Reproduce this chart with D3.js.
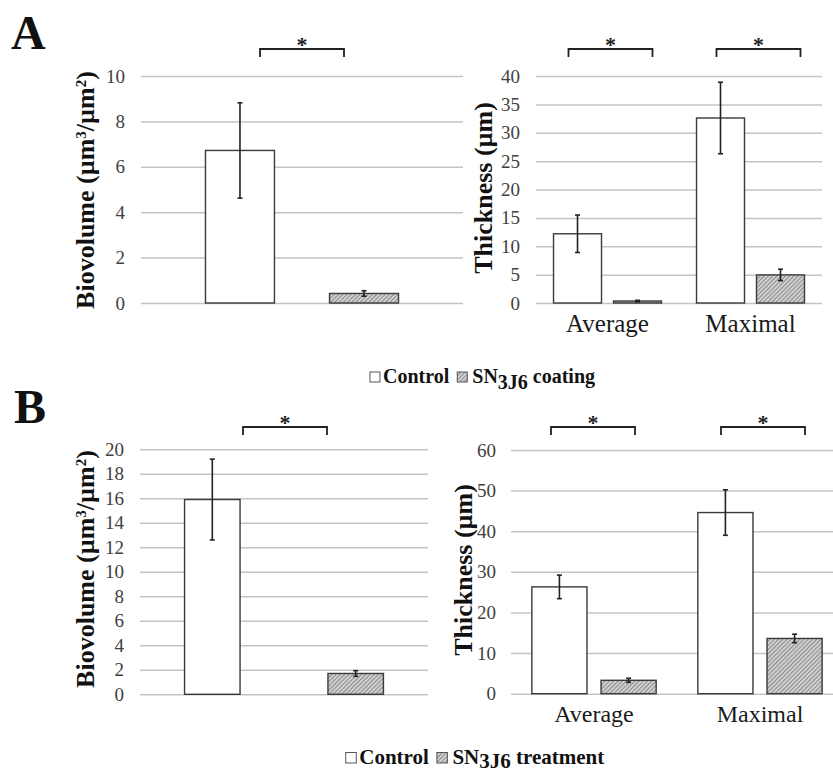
<!DOCTYPE html>
<html>
<head>
<meta charset="utf-8">
<script src="https://cdn.jsdelivr.net/npm/d3@7"></script>
<style>
  html, body { margin: 0; padding: 0; background: #fff; }
  svg { display: block; }
</style>
</head>
<body>
<svg id="chart" width="833" height="773"></svg>
<script>
// ---------- DATA ----------
const series = ["Control", "SN3J6"];
const thicknessCategories = ["Average", "Maximal"];

// Panel A (coating)
const bioA_values = [6.72, 0.42];
const bioA_errors = [2.1, 0.12];
const thickA_control = [12.2, 32.6];
const thickA_controlErr = [3.3, 6.3];
const thickA_sn = [0.35, 4.95];
const thickA_snErr = [0.12, 1.0];
const bioA_ticks = [0, 2, 4, 6, 8, 10];
const thickA_ticks = [0, 5, 10, 15, 20, 25, 30, 35, 40];

// Panel B (treatment)
const bioB_values = [15.9, 1.7];
const bioB_errors = [3.3, 0.23];
const thickB_control = [26.3, 44.6];
const thickB_controlErr = [2.9, 5.6];
const thickB_sn = [3.3, 13.6];
const thickB_snErr = [0.5, 1.05];
const bioB_ticks = [0, 2, 4, 6, 8, 10, 12, 14, 16, 18, 20];
const thickB_ticks = [0, 10, 20, 30, 40, 50, 60];

const legendA_suffix = " coating";
const legendB_suffix = " treatment";

// ---------- STYLE ----------
const SERIF = "'Liberation Serif', 'Times New Roman', serif";
const GRID = "#c4c4c4";
const OUTLINE = "#3a3a3a";
const TICKCOL = "#404040";

const svg = d3.select("#chart");
const defs = svg.append("defs");
const pat = defs.append("pattern")
  .attr("id", "hatch").attr("patternUnits", "userSpaceOnUse")
  .attr("width", 3).attr("height", 3)
  .attr("patternTransform", "rotate(45)");
pat.append("rect").attr("width", 3).attr("height", 3).attr("fill", "#d0d0d0");
pat.append("line").attr("x1", 0).attr("y1", 0).attr("x2", 0).attr("y2", 3)
  .attr("stroke", "#666").attr("stroke-width", 1.3);

const fills = ["#ffffff", "url(#hatch)"];

// ---------- generic panel ----------
function drawPanel(cfg) {
  const g = svg.append("g");
  const y = d3.scaleLinear().domain(cfg.domain).range([cfg.y0, cfg.y1]);
  const x = d3.scaleBand().domain(cfg.categories).range([cfg.x0, cfg.x1])
    .paddingInner(cfg.padInner).paddingOuter(cfg.padOuter);
  const xs = d3.scaleBand().domain(series).range([0, x.bandwidth()])
    .paddingInner(cfg.subPad).paddingOuter(0);

  // grid
  const yAxis = d3.axisLeft(y).tickValues(cfg.ticks).tickSize(-(cfg.x1 - cfg.x0)).tickPadding(0);
  const ax = g.append("g").attr("transform", `translate(${cfg.x0},0)`).call(yAxis);
  ax.select(".domain").remove();
  ax.selectAll(".tick line").attr("stroke", GRID).attr("stroke-width", 1.5);
  ax.selectAll(".tick text")
    .attr("x", cfg.tickRight - cfg.x0)
    .attr("font-family", SERIF).attr("font-size", cfg.tickSize)
    .attr("fill", TICKCOL).attr("text-anchor", "end");

  // bars
  const rows = [];
  cfg.categories.forEach((c, i) => {
    series.forEach((s, j) => {
      rows.push({ c, s, j, v: cfg.values[j][i], e: cfg.errors[j][i] });
    });
  });
  const bars = g.append("g");
  bars.selectAll("rect").data(rows).join("rect")
    .attr("x", d => x(d.c) + xs(d.s))
    .attr("width", xs.bandwidth())
    .attr("y", d => y(d.v))
    .attr("height", d => y(0) - y(d.v))
    .attr("fill", d => fills[d.j])
    .attr("stroke", OUTLINE).attr("stroke-width", 1.4);

  // error bars
  const eg = g.append("g").attr("stroke", "#222").attr("stroke-width", 1.6);
  rows.forEach(d => {
    const cx = x(d.c) + xs(d.s) + xs.bandwidth() / 2;
    const top = y(d.v + d.e), bot = y(d.v - d.e);
    eg.append("line").attr("x1", cx).attr("x2", cx).attr("y1", top).attr("y2", bot);
    eg.append("line").attr("x1", cx - 2.5).attr("x2", cx + 2.5).attr("y1", top).attr("y2", top);
    eg.append("line").attr("x1", cx - 2.5).attr("x2", cx + 2.5).attr("y1", bot).attr("y2", bot);
  });

  // significance brackets
  cfg.categories.forEach((c, i) => {
    const cx = x(c) + x.bandwidth() / 2 + (cfg.bracketShift ? cfg.bracketShift[i] : 0);
    const hw = 42;
    g.append("path")
      .attr("d", `M${cx - hw},${cfg.bracketY + 8}V${cfg.bracketY}H${cx + hw}V${cfg.bracketY + 8}`)
      .attr("fill", "none").attr("stroke", "#222").attr("stroke-width", 1.8);
    g.append("text").attr("x", cx).attr("y", cfg.bracketY + 3)
      .attr("text-anchor", "middle").attr("font-family", SERIF)
      .attr("font-weight", "bold").attr("font-size", 22).attr("fill", "#222")
      .text("*");
  });

  // category labels
  if (cfg.showCats) {
    cfg.categories.forEach(c => {
      g.append("text").attr("x", x(c) + x.bandwidth() / 2).attr("y", cfg.catY)
        .attr("text-anchor", "middle").attr("font-family", SERIF)
        .attr("font-size", cfg.catSize).attr("fill", "#1a1a1a").text(c);
    });
  }

  // y label
  const yl = g.append("text")
    .attr("transform", `translate(${cfg.labelX},${cfg.labelY}) rotate(-90)`)
    .attr("text-anchor", "middle").attr("font-family", SERIF)
    .attr("font-weight", "bold").attr("font-size", 26).attr("fill", "#111");
  cfg.label.forEach(part => {
    const t = yl.append("tspan").text(part.t);
    if (part.sup) t.attr("font-size", 15).attr("baseline-shift", "55%");
  });
}

const bioLabel = [{ t: "Biovolume (µm" }, { t: "3", sup: true }, { t: "/µm" }, { t: "2", sup: true }, { t: ")" }];
const thickLabel = [{ t: "Thickness (µm)" }];

// Panel A left
drawPanel({
  categories: ["Biovolume"], values: [[bioA_values[0]], [bioA_values[1]]],
  errors: [[bioA_errors[0]], [bioA_errors[1]]],
  domain: [0, 10], ticks: bioA_ticks, y0: 303, y1: 76,
  x0: 141, x1: 463, padInner: 0, padOuter: 0.334, subPad: 0.444,
  tickRight: 125, tickSize: 19, bracketY: 49, showCats: false,
  labelX: 94, labelY: 190, label: bioLabel
});
// Panel A right
drawPanel({
  categories: thicknessCategories, values: [thickA_control, thickA_sn],
  errors: [thickA_controlErr, thickA_snErr],
  domain: [0, 40], ticks: thickA_ticks, y0: 303, y1: 76,
  x0: 536, x1: 822, padInner: 0.245, padOuter: 0.1225, subPad: 0.2,
  tickRight: 520, tickSize: 19, bracketY: 49, bracketShift: [3, 8], showCats: true,
  catY: 332, catSize: 25,
  labelX: 492, labelY: 188, label: thickLabel
});
// Panel B left
drawPanel({
  categories: ["Biovolume"], values: [[bioB_values[0]], [bioB_values[1]]],
  errors: [[bioB_errors[0]], [bioB_errors[1]]],
  domain: [0, 20], ticks: bioB_ticks, y0: 694.3, y1: 449.3,
  x0: 140, x1: 428, padInner: 0, padOuter: 0.224, subPad: 0.613,
  tickRight: 124, tickSize: 19, bracketY: 427, bracketShift: [1], showCats: false,
  labelX: 94, labelY: 569, label: bioLabel
});
// Panel B right
drawPanel({
  categories: thicknessCategories, values: [thickB_control, thickB_sn],
  errors: [thickB_controlErr, thickB_snErr],
  domain: [0, 60], ticks: thickB_ticks, y0: 693.7, y1: 450,
  x0: 511, x1: 843, padInner: 0.251, padOuter: 0.1256, subPad: 0.203,
  tickRight: 496, tickSize: 19, bracketY: 427, bracketShift: [-1, 3], showCats: true,
  catY: 722, catSize: 24,
  labelX: 472, labelY: 570, label: thickLabel
});

// panel letters
svg.append("text").attr("x", 11).attr("y", 49).attr("font-family", SERIF)
  .attr("font-weight", "bold").attr("font-size", 48).attr("fill", "#111").text("A");
svg.append("text").attr("x", 14).attr("y", 423).attr("font-family", SERIF)
  .attr("font-weight", "bold").attr("font-size", 48).attr("fill", "#111").text("B");

// legends
function legend(cx, baseline, size, suffix, sub) {
  const g = svg.append("g");
  const sq = size * 0.5;
  let xpos = 0;
  g.append("rect").attr("x", xpos).attr("y", baseline - sq - 1).attr("width", sq).attr("height", sq)
    .attr("fill", fills[0]).attr("stroke", "#555").attr("stroke-width", 1);
  xpos += sq + 3;
  const t1 = g.append("text").attr("x", xpos).attr("y", baseline).attr("font-family", SERIF)
    .attr("font-weight", "bold").attr("font-size", size).attr("fill", "#111").text(series[0]);
  xpos += t1.node().getComputedTextLength() + 8;
  g.append("rect").attr("x", xpos).attr("y", baseline - sq - 1).attr("width", sq).attr("height", sq)
    .attr("fill", fills[1]).attr("stroke", "#555").attr("stroke-width", 1);
  xpos += sq + 5;
  const t2 = g.append("text").attr("x", xpos).attr("y", baseline).attr("font-family", SERIF)
    .attr("font-weight", "bold").attr("font-size", size).attr("fill", "#111");
  t2.append("tspan").text("SN");
  t2.append("tspan").attr("dy", sub).text("3J6");
  t2.append("tspan").attr("dy", -sub).text(suffix);
  xpos += t2.node().getComputedTextLength();
  g.attr("transform", `translate(${cx - xpos / 2},0)`);
}
legend(482.5, 383, 20, legendA_suffix, 6);
legend(475, 764, 21, legendB_suffix, 4);
</script>
</body>
</html>
